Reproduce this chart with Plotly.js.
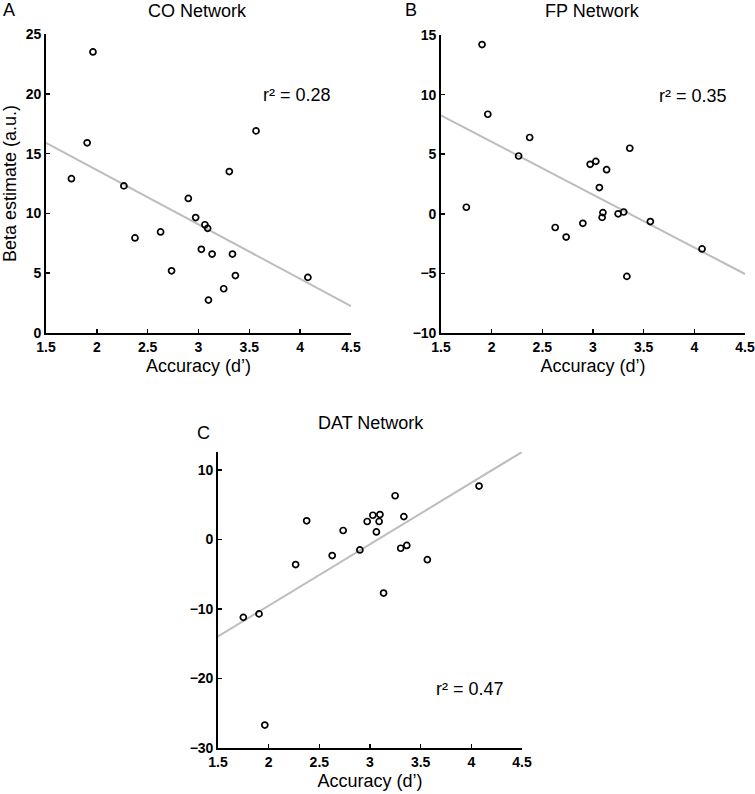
<!DOCTYPE html>
<html>
<head>
<meta charset="utf-8">
<script src="https://cdn.plot.ly/plotly-3.0.1.min.js"></script>
<style>
  html, body { margin: 0; padding: 0; background: #fff; }
  #chart { width: 755px; height: 794px; }
</style>
</head>
<body>
<div id="chart"></div>
<script>
'use strict';

// accuracy (d') per subject, shared by all three panels
var accuracy = [1.75, 1.905, 1.962, 2.266, 2.375, 2.627, 2.735, 2.9, 2.972, 3.028,
  3.063, 3.09, 3.098, 3.134, 3.248, 3.303, 3.334, 3.363, 3.566, 4.076];

// beta estimates (a.u.), same subject order
var betaCO = [12.9, 15.9, 23.5, 12.3, 7.95, 8.45, 5.2, 11.25, 9.65, 7.0,
  9.05, 8.75, 2.75, 6.6, 3.7, 13.5, 6.6, 4.8, 16.9, 4.65];
var betaFP = [0.55, 14.2, 8.35, 4.85, 6.4, -1.15, -1.95, -0.8, 4.15, 4.4,
  2.2, -0.3, 0.1, 3.7, 0.0, 0.15, -5.25, 5.5, -0.65, -2.95];
var betaDAT = [-11.2, -10.7, -26.7, -3.6, 2.7, -2.3, 1.3, -1.5, 2.6, 3.5,
  1.1, 2.6, 3.6, -7.7, 6.3, -1.25, 3.3, -0.85, -2.9, 7.7];

// regression line ends at x = 1.5 and x = 4.5
var fitX = [1.5, 4.5];
var fitCO = [15.9, 2.25];
var fitFP = [8.25, -5.05];
var fitDAT = [-13.95, 12.6];

var panelTitles = ['CO Network', 'FP Network', 'DAT Network'];
var panelLetters = ['A', 'B', 'C'];
var r2Labels = ['r\u00b2 = 0.28', 'r\u00b2 = 0.35', 'r\u00b2 = 0.47'];
var xTicks = [1.5, 2, 2.5, 3, 3.5, 4, 4.5];
var yTicksCO = [0, 5, 10, 15, 20, 25];
var yTicksFP = [-10, -5, 0, 5, 10, 15];
var yTicksDAT = [-30, -20, -10, 0, 10];

var W = 755, H = 794;
var FONT = 'Liberation Sans, Arial, Helvetica, sans-serif';

function px(x) { return x / W; }
function py(y) { return 1 - y / H; }

// bold tick text, with a real minus sign
function boldLabels(vals) {
  return vals.map(function (v) {
    return '<b>' + String(v).replace('-', '\u2212') + '</b>';
  });
}

function scatterTrace(y, n) {
  return {
    x: accuracy,
    y: y,
    xaxis: 'x' + n,
    yaxis: 'y' + n,
    mode: 'markers',
    showlegend: false,
    hoverinfo: 'skip',
    marker: { symbol: 'circle-open', size: 6, color: '#000', line: { width: 1.7, color: '#000' } }
  };
}

function fitTrace(y, n) {
  return {
    x: fitX,
    y: y,
    xaxis: 'x' + n,
    yaxis: 'y' + n,
    mode: 'lines',
    showlegend: false,
    hoverinfo: 'skip',
    line: { color: '#bdbdbd', width: 2 }
  };
}

function baseAxis(domain, anchor, range, ticks) {
  return {
    domain: domain,
    anchor: anchor,
    range: range,
    tickmode: 'array',
    tickvals: ticks,
    ticktext: boldLabels(ticks),
    ticks: 'inside',
    ticklen: 4,
    tickwidth: 1.5,
    tickcolor: '#000',
    showline: true,
    linecolor: '#000',
    linewidth: 1.8,
    showgrid: false,
    zeroline: false,
    tickfont: { family: FONT, size: 14, color: '#000', weight: 'bold' }
  };
}

function xAxis(domain, anchor) {
  var ax = baseAxis(domain, anchor, [1.5, 4.5], xTicks);
  ax.title = { text: 'Accuracy (d\u2019)', font: { family: FONT, size: 18, color: '#000' }, standoff: 6 };
  return ax;
}

var data = [
  fitTrace(fitCO, ''), scatterTrace(betaCO, ''),
  fitTrace(fitFP, '2'), scatterTrace(betaFP, '2'),
  fitTrace(fitDAT, '3'), scatterTrace(betaDAT, '3')
];

var yA = baseAxis([py(333), py(34)], 'x', [0, 25], yTicksCO);
yA.title = { text: 'Beta estimate (a.u.)', font: { family: FONT, size: 18, color: '#000' }, standoff: 4 };

var layout = {
  width: W,
  height: H,
  margin: { l: 0, r: 0, t: 0, b: 0 },
  paper_bgcolor: '#fff',
  plot_bgcolor: 'rgba(0,0,0,0)',
  font: { family: FONT, color: '#000' },
  xaxis: xAxis([px(46), px(351)], 'y'),
  yaxis: yA,
  xaxis2: xAxis([px(441), px(745)], 'y2'),
  yaxis2: baseAxis([py(333), py(35)], 'x2', [-10, 15], yTicksFP),
  xaxis3: xAxis([px(218), px(522)], 'y3'),
  yaxis3: baseAxis([py(748), py(452)], 'x3', [-30, 12.6], yTicksDAT),
  annotations: []
};

var titlePos = [[198, 11], [592, 11], [371, 423]];
var letterPos = [[9, 10], [411, 10], [203, 433]];
var r2Pos = [[297, 95], [693, 96], [470, 689]];

for (var i = 0; i < 3; i++) {
  layout.annotations.push({
    text: panelTitles[i], xref: 'paper', yref: 'paper',
    x: px(titlePos[i][0]), y: py(titlePos[i][1]), xanchor: 'center', yanchor: 'middle',
    showarrow: false, font: { family: FONT, size: 18, color: '#000' }
  });
  layout.annotations.push({
    text: panelLetters[i], xref: 'paper', yref: 'paper',
    x: px(letterPos[i][0]), y: py(letterPos[i][1]), xanchor: 'center', yanchor: 'middle',
    showarrow: false, font: { family: FONT, size: 18, color: '#000' }
  });
  layout.annotations.push({
    text: r2Labels[i], xref: 'paper', yref: 'paper',
    x: px(r2Pos[i][0]), y: py(r2Pos[i][1]), xanchor: 'center', yanchor: 'middle',
    showarrow: false, font: { family: FONT, size: 18, color: '#000' }
  });
}

Plotly.newPlot('chart', data, layout, { displayModeBar: false, staticPlot: true });
</script>
</body>
</html>
